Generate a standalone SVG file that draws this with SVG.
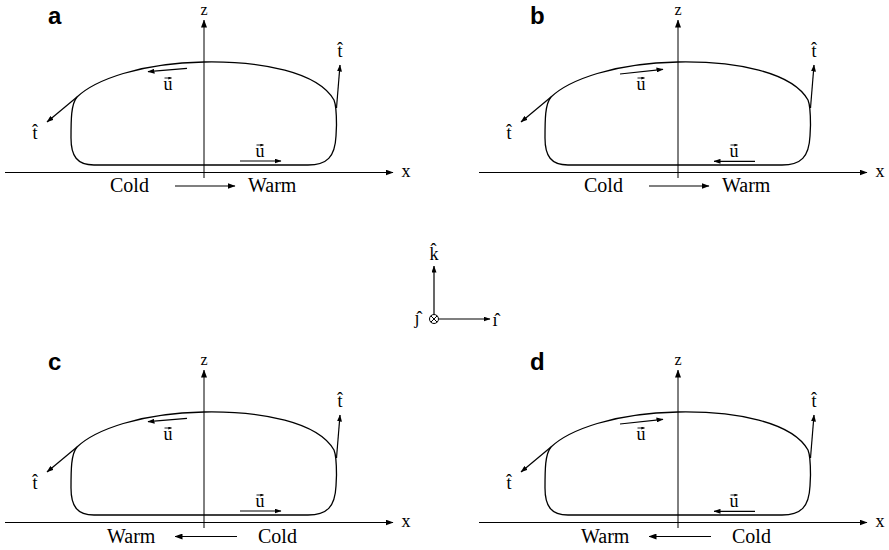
<svg xmlns="http://www.w3.org/2000/svg" width="889" height="550" viewBox="0 0 889 550">
<defs>
<style>
.pl{font-family:"Liberation Sans",Arial,sans-serif;font-weight:bold;font-size:24px;fill:#000}
.lb{font-family:"Liberation Serif","Times New Roman",serif;font-size:18px;fill:#000;text-anchor:middle}
.zl{font-family:"Liberation Serif","Times New Roman",serif;font-size:16px;fill:#000;text-anchor:middle}
.cw{font-family:"Liberation Serif","Times New Roman",serif;font-size:20px;fill:#000}
.ax{stroke:#000;stroke-width:1;fill:none}
.loop{stroke:#000;stroke-width:1.3;fill:none}
.ar{stroke:#000;stroke-width:1.2;fill:none}
.acc{stroke:#000;stroke-width:0.9;fill:none}
</style>
<marker id="ah" markerWidth="8" markerHeight="6" refX="7.5" refY="3" orient="auto" markerUnits="userSpaceOnUse"><path d="M0,0 L8,3 L0,6 Z" fill="#000"/></marker>
<marker id="ahs" markerWidth="7" markerHeight="5" refX="6.5" refY="2.5" orient="auto" markerUnits="userSpaceOnUse"><path d="M0,0 L7,2.5 L0,5 Z" fill="#000"/></marker>
<marker id="aht" markerWidth="3.5" markerHeight="3" refX="3.2" refY="1.5" orient="auto" markerUnits="userSpaceOnUse"><path d="M0,0 L3.5,1.5 L0,3 Z" fill="#000"/></marker>
</defs>
<rect width="889" height="550" fill="#fff"/>

<!-- Panel a -->
<g id="panel-a">
<text class="pl" x="48" y="24">a</text>
<g id="a-connectors">
<line class="ax" x1="204" y1="178" x2="204" y2="20" marker-end="url(#ah)"/>
<line class="ax" x1="5" y1="172.5" x2="393" y2="172.5" marker-end="url(#ah)"/>
<path class="loop" d="M77,97 C95,80 140,63 204,62 C262,61 318,72 334,100 C336.5,106 336.5,115 336.5,125 L336,136 C335,157 327,165 308,165 L94,165 C77,165 71,156 71,138 C71,120 71,104 77,97 Z"/>
<line class="ar" x1="77" y1="97" x2="47" y2="122" marker-end="url(#ahs)"/>
<line class="ar" x1="336.5" y1="108" x2="340" y2="65" marker-end="url(#ahs)"/>
<line class="ar" x1="187" y1="68.3" x2="148" y2="71.7" marker-end="url(#ahs)"/>
<line class="ar" x1="240" y1="161" x2="281" y2="161" marker-end="url(#ahs)"/>
<line class="ar" x1="175" y1="186" x2="235" y2="186" marker-end="url(#ah)"/>
<line class="acc" x1="164.5" y1="78" x2="171.5" y2="78" marker-end="url(#aht)"/>
<line class="acc" x1="256.5" y1="145" x2="263.5" y2="145" marker-end="url(#aht)"/>
</g>
<text class="zl" x="204" y="14.5">z</text>
<text class="lb" x="406" y="177">x</text>
<text class="lb" x="35" y="139">t&#x302;</text>
<text class="lb" x="340" y="57">t&#x302;</text>
<text class="lb" x="168" y="89.5">u</text>
<text class="lb" x="260" y="156.5">u</text>
<text class="cw" x="110" y="191.5">Cold</text>
<text class="cw" x="248" y="191.5">Warm</text>
</g>

<!-- Panel b -->
<g id="panel-b" transform="translate(474,0)">
<text class="pl" x="56" y="24">b</text>
<g id="b-connectors">
<line class="ax" x1="204" y1="178" x2="204" y2="20" marker-end="url(#ah)"/>
<line class="ax" x1="5" y1="172.5" x2="393" y2="172.5" marker-end="url(#ah)"/>
<path class="loop" d="M77,97 C95,80 140,63 204,62 C262,61 318,72 334,100 C336.5,106 336.5,115 336.5,125 L336,136 C335,157 327,165 308,165 L94,165 C77,165 71,156 71,138 C71,120 71,104 77,97 Z"/>
<line class="ar" x1="77" y1="97" x2="47" y2="122" marker-end="url(#ahs)"/>
<line class="ar" x1="336.5" y1="108" x2="340" y2="65" marker-end="url(#ahs)"/>
<line class="ar" x1="146" y1="74" x2="189" y2="69.3" marker-end="url(#ahs)"/>
<line class="ar" x1="281" y1="161.3" x2="240" y2="161.3" marker-end="url(#ahs)"/>
<line class="ar" x1="175" y1="186" x2="235" y2="186" marker-end="url(#ah)"/>
<line class="acc" x1="163.5" y1="78" x2="170.5" y2="78" marker-end="url(#aht)"/>
<line class="acc" x1="256.5" y1="145" x2="263.5" y2="145" marker-end="url(#aht)"/>
</g>
<text class="zl" x="204" y="14.5">z</text>
<text class="lb" x="406" y="177">x</text>
<text class="lb" x="35" y="139">t&#x302;</text>
<text class="lb" x="340" y="57">t&#x302;</text>
<text class="lb" x="167" y="89.5">u</text>
<text class="lb" x="260" y="156.5">u</text>
<text class="cw" x="110" y="191.5">Cold</text>
<text class="cw" x="248" y="191.5">Warm</text>
</g>

<!-- Panel c -->
<g id="panel-c" transform="translate(0,350)">
<text class="pl" x="48" y="20">c</text>
<g id="c-connectors">
<line class="ax" x1="204" y1="178" x2="204" y2="20" marker-end="url(#ah)"/>
<line class="ax" x1="5" y1="172.5" x2="393" y2="172.5" marker-end="url(#ah)"/>
<path class="loop" d="M77,97 C95,80 140,63 204,62 C262,61 318,72 334,100 C336.5,106 336.5,115 336.5,125 L336,136 C335,157 327,165 308,165 L94,165 C77,165 71,156 71,138 C71,120 71,104 77,97 Z"/>
<line class="ar" x1="77" y1="97" x2="47" y2="122" marker-end="url(#ahs)"/>
<line class="ar" x1="336.5" y1="108" x2="340" y2="65" marker-end="url(#ahs)"/>
<line class="ar" x1="187" y1="68.3" x2="148" y2="71.7" marker-end="url(#ahs)"/>
<line class="ar" x1="240" y1="161" x2="281" y2="161" marker-end="url(#ahs)"/>
<line class="ar" x1="237" y1="186.5" x2="175" y2="186.5" marker-end="url(#ah)"/>
<line class="acc" x1="164.5" y1="78" x2="171.5" y2="78" marker-end="url(#aht)"/>
<line class="acc" x1="256.5" y1="145" x2="263.5" y2="145" marker-end="url(#aht)"/>
</g>
<text class="zl" x="204" y="14.5">z</text>
<text class="lb" x="406" y="177">x</text>
<text class="lb" x="35" y="139">t&#x302;</text>
<text class="lb" x="340" y="57">t&#x302;</text>
<text class="lb" x="168" y="89.5">u</text>
<text class="lb" x="260" y="156.5">u</text>
<text class="cw" x="107" y="192.5">Warm</text>
<text class="cw" x="258" y="192.5">Cold</text>
</g>

<!-- Panel d -->
<g id="panel-d" transform="translate(474,350)">
<text class="pl" x="56" y="20">d</text>
<g id="d-connectors">
<line class="ax" x1="204" y1="178" x2="204" y2="20" marker-end="url(#ah)"/>
<line class="ax" x1="5" y1="172.5" x2="393" y2="172.5" marker-end="url(#ah)"/>
<path class="loop" d="M77,97 C95,80 140,63 204,62 C262,61 318,72 334,100 C336.5,106 336.5,115 336.5,125 L336,136 C335,157 327,165 308,165 L94,165 C77,165 71,156 71,138 C71,120 71,104 77,97 Z"/>
<line class="ar" x1="77" y1="97" x2="47" y2="122" marker-end="url(#ahs)"/>
<line class="ar" x1="336.5" y1="108" x2="340" y2="65" marker-end="url(#ahs)"/>
<line class="ar" x1="146" y1="74" x2="189" y2="69.3" marker-end="url(#ahs)"/>
<line class="ar" x1="281" y1="161.3" x2="240" y2="161.3" marker-end="url(#ahs)"/>
<line class="ar" x1="237" y1="186.5" x2="175" y2="186.5" marker-end="url(#ah)"/>
<line class="acc" x1="163.5" y1="78" x2="170.5" y2="78" marker-end="url(#aht)"/>
<line class="acc" x1="256.5" y1="145" x2="263.5" y2="145" marker-end="url(#aht)"/>
</g>
<text class="zl" x="204" y="14.5">z</text>
<text class="lb" x="406" y="177">x</text>
<text class="lb" x="35" y="139">t&#x302;</text>
<text class="lb" x="340" y="57">t&#x302;</text>
<text class="lb" x="167" y="89.5">u</text>
<text class="lb" x="260" y="156.5">u</text>
<text class="cw" x="107" y="192.5">Warm</text>
<text class="cw" x="258" y="192.5">Cold</text>
</g>

<!-- Coordinate system -->
<g id="coord">
<g id="coord-connectors">
<line class="ar" x1="434" y1="314.5" x2="434" y2="266" marker-end="url(#ahs)"/>
<line class="ar" x1="438.5" y1="319" x2="490" y2="319" marker-end="url(#ahs)"/>
<circle cx="434" cy="319" r="4.5" fill="#fff" stroke="#000" stroke-width="1"/>
<line class="ax" x1="430.8" y1="315.8" x2="437.2" y2="322.2"/>
<line class="ax" x1="437.2" y1="315.8" x2="430.8" y2="322.2"/>
</g>
<text class="lb" x="434" y="260">k&#x302;</text>
<text class="lb" x="495" y="326">ı&#x302;</text>
<text class="lb" x="417" y="324">ȷ&#x302;</text>
</g>
</svg>
